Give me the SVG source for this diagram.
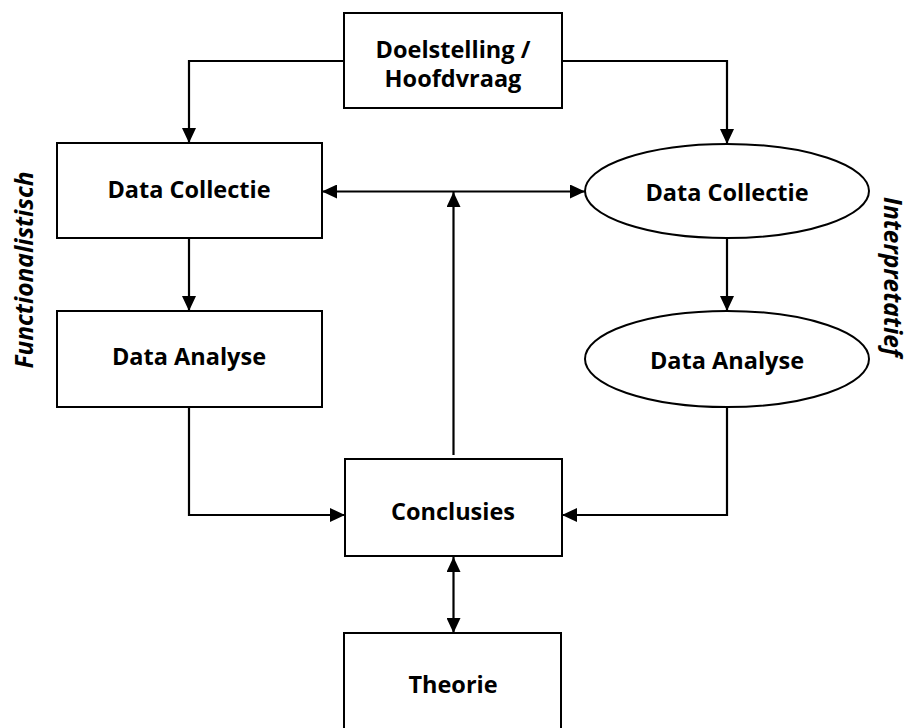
<svg xmlns="http://www.w3.org/2000/svg" width="911" height="728" viewBox="0 0 911 728">
<style>
.box{fill:#fff;stroke:#000;stroke-width:2}
.lbl{font-family:"Open Sans","Liberation Sans",sans-serif;font-weight:bold;font-size:23.5px;fill:#000;text-anchor:middle}
.side{font-family:"Open Sans","Liberation Sans",sans-serif;font-weight:bold;font-style:italic;font-size:24.5px;fill:#000;text-anchor:middle}
.con{fill:none;stroke:#000;stroke-width:2.2}
</style>
<defs>
<marker id="ah" markerUnits="userSpaceOnUse" markerWidth="15" markerHeight="14" refX="15" refY="7" orient="auto-start-reverse" viewBox="0 0 15 14">
<path d="M0,0 L15,7 L0,14 z" fill="#000"/>
</marker>
</defs>
<rect x="0" y="0" width="911" height="728" fill="#fff"/>
<g id="connectors">
<polyline class="con" points="344,61 189,61 189,143" marker-end="url(#ah)"/>
<polyline class="con" points="562,61 727,61 727,144" marker-end="url(#ah)"/>
<line class="con" x1="322" y1="191.5" x2="585" y2="191.5" marker-start="url(#ah)" marker-end="url(#ah)"/>
<line class="con" x1="189" y1="238" x2="189" y2="311" marker-end="url(#ah)"/>
<line class="con" x1="727" y1="238" x2="727" y2="311" marker-end="url(#ah)"/>
<polyline class="con" points="189,407 189,515 345,515" marker-end="url(#ah)"/>
<polyline class="con" points="727,407 727,515 562,515" marker-end="url(#ah)"/>
<line class="con" x1="453.5" y1="455" x2="453.5" y2="192" marker-end="url(#ah)"/>
<line class="con" x1="453.5" y1="557" x2="453.5" y2="633" marker-start="url(#ah)" marker-end="url(#ah)"/>
</g>
<g id="doelstelling">
<rect class="box" x="344" y="13" width="218" height="95"/>
<text class="lbl" x="453" y="58">Doelstelling /</text>
<text class="lbl" x="453" y="87">Hoofdvraag</text>
</g>
<g id="dc-left">
<rect class="box" x="57" y="143" width="265" height="95"/>
<text class="lbl" x="189" y="198">Data Collectie</text>
</g>
<g id="da-left">
<rect class="box" x="57" y="311" width="265" height="96"/>
<text class="lbl" x="189" y="365">Data Analyse</text>
</g>
<g id="dc-right">
<ellipse class="box" cx="727" cy="191" rx="142" ry="47"/>
<text class="lbl" x="727" y="201">Data Collectie</text>
</g>
<g id="da-right">
<ellipse class="box" cx="727" cy="359" rx="142" ry="48"/>
<text class="lbl" x="727" y="369">Data Analyse</text>
</g>
<g id="conclusies">
<rect class="box" x="345" y="459" width="217" height="97"/>
<text class="lbl" x="453" y="520">Conclusies</text>
</g>
<g id="theorie">
<rect class="box" x="344" y="633" width="217" height="100"/>
<text class="lbl" x="453" y="693">Theorie</text>
</g>
<g id="side-labels">
<text class="side" transform="translate(33,270) rotate(-90)">Functionalistisch</text>
<text class="side" transform="translate(884,277) rotate(90)">Interpretatief</text>
</g>
</svg>
